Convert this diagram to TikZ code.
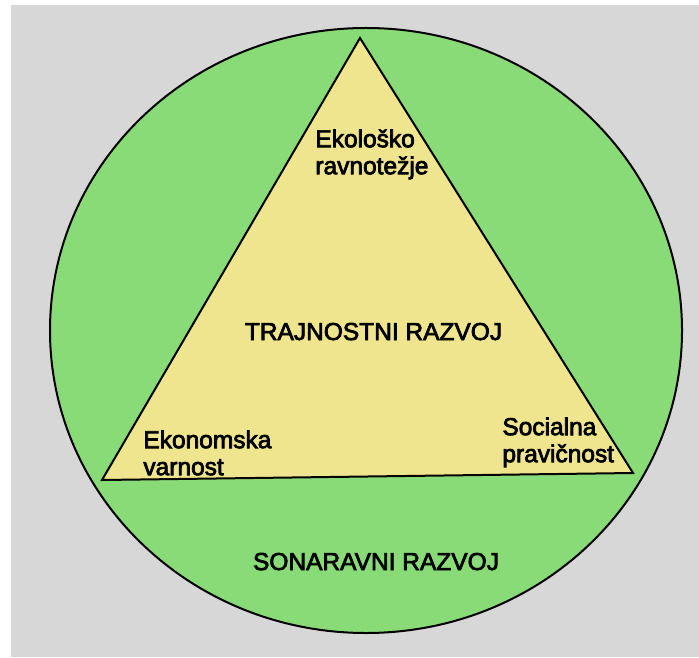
\documentclass[tikz,border=0pt]{standalone}
\usepackage{fontspec}
\setmainfont{Liberation Sans}[FakeBold=3]
\usepackage{tikz}
\usetikzlibrary{positioning,calc}

\definecolor{bggray}{RGB}{215,215,215}
\definecolor{ringgreen}{RGB}{137,219,119}
\definecolor{triyellow}{RGB}{240,229,143}

\begin{document}
\begin{tikzpicture}[x=0.5pt, y=-0.5pt,
  lbl/.style={inner sep=0pt, align=left, font=\fontsize{12.25}{13.5}\selectfont},
  title/.style={inner sep=0pt, font=\fontsize{12.25}{13.5}\selectfont}]
\useasboundingbox (0,0) rectangle (699,657);
\fill[white] (0,0) rectangle (699,657);
\fill[bggray] (11,5) rectangle (699,657);
% outer ellipse
\draw[line width=1pt, fill=ringgreen] (366,330.5) ellipse [x radius=316, y radius=302.5];
% triangle
\coordinate (top) at (360,38);
\coordinate (left) at (102,480);
\coordinate (right) at (633,473);
\draw[line width=1pt, fill=triyellow, line join=miter] (top) -- (right) -- (left) -- cycle;
% labels
\node[lbl, anchor=north west] (eko) at (315,129) {Ekološko\\ravnotežje};
\node[lbl, anchor=north west] (ekon) at (143,430) {Ekonomska\\varnost};
\node[lbl, anchor=north west] (soc) at (502,417) {Socialna\\pravičnost};
\node[title, anchor=base] (trajn) at (373.5,340) {TRAJNOSTNI RAZVOJ};
\node[title, anchor=base] (sonar) at (376,570) {SONARAVNI RAZVOJ};
\end{tikzpicture}
\end{document}
